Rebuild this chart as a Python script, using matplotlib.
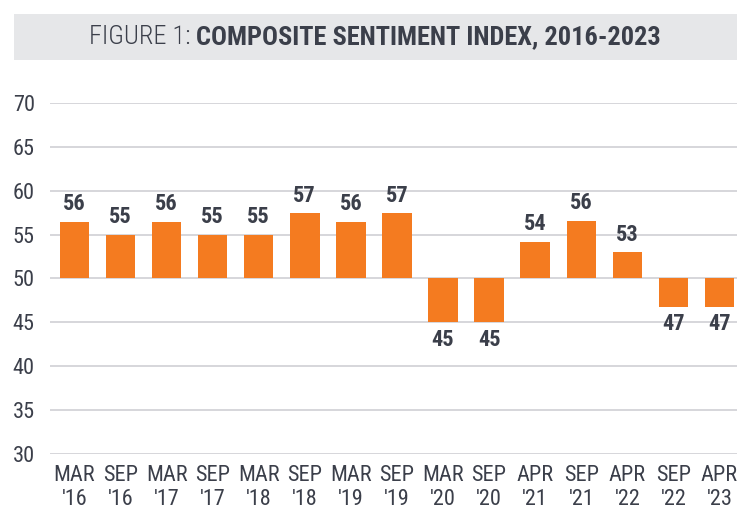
import numpy as np
import matplotlib
matplotlib.use("Agg")
import matplotlib.pyplot as plt
from matplotlib import font_manager
from matplotlib.patches import Rectangle


# Datos
meses = ["MAR", "SEP", "MAR", "SEP", "MAR", "SEP", "MAR", "SEP",
         "MAR", "SEP", "APR", "SEP", "APR", "SEP", "APR"]
anios = ["'16", "'16", "'17", "'17", "'18", "'18", "'19", "'19",
         "'20", "'20", "'21", "'21", "'22", "'22", "'23"]
valores = [56.5, 55.0, 56.5, 55.0, 55.0, 57.5, 56.5, 57.5,
           45.0, 45.0, 54.2, 56.6, 53.0, 46.8, 46.8]
etiquetas = [56, 55, 56, 55, 55, 57, 56, 57, 45, 45, 54, 56, 53, 47, 47]
base = 50

# Fuente condensada si hay alguna
disponibles = {f.name for f in font_manager.fontManager.ttflist}
fuente = "DejaVu Sans"
for cand in ["Roboto Condensed", "Liberation Sans Narrow", "DejaVu Sans Condensed", "Open Sans Condensed"]:
    if cand in disponibles:
        fuente = cand
        break
estirar = "condensed" if fuente == "DejaVu Sans" else "normal"
plt.rcParams["font.family"] = [fuente, "DejaVu Sans"]
plt.rcParams["font.stretch"] = estirar

naranja = "#F47B20"
gris_texto = "#3B3F4A"
gris_grid = "#D3D3D8"

fig = plt.figure(figsize=(7.5, 5.16), dpi=100)

# Banda del titulo
fig.patches.append(Rectangle((14 / 750, 1 - 60 / 516), 723 / 750, 46 / 516,
                             transform=fig.transFigure, facecolor="#E6E7E9",
                             edgecolor="none", zorder=0))
t1 = fig.text(0.5, 1 - 37 / 516, "FIGURE 1: ", ha="left", va="center",
              fontsize=19, color=gris_texto, fontweight="light")
t2 = fig.text(0.5, 1 - 37 / 516, "COMPOSITE SENTIMENT INDEX, 2016-2023", ha="left",
              va="center", fontsize=19, color=gris_texto, fontweight="bold")
fig.canvas.draw()
r = fig.canvas.get_renderer()
w1 = t1.get_window_extent(r).width
w2 = t2.get_window_extent(r).width
x0 = (750 - (w1 + w2)) / 2
t1.set_position((x0 / 750, 1 - 37 / 516))
t2.set_position(((x0 + w1) / 750, 1 - 37 / 516))

ax = fig.add_axes([50 / 750, 1 - 453.7 / 516, 687 / 750, 350.4 / 516])
x = np.arange(len(valores))
alturas = [v - base for v in valores]
ax.bar(x, alturas, bottom=base, width=0.64, color=naranja, zorder=3)

for i in range(len(valores)):
    if valores[i] >= base:
        ax.annotate(str(etiquetas[i]), (x[i], valores[i]), xytext=(0, 4.5),
                    textcoords="offset points", ha="center", va="bottom",
                    fontsize=16, fontweight="bold", color=gris_texto)
    else:
        ax.annotate(str(etiquetas[i]), (x[i], valores[i]), xytext=(0, -4.5),
                    textcoords="offset points", ha="center", va="top",
                    fontsize=16, fontweight="bold", color=gris_texto)

ax.set_ylim(30, 70)
ax.set_yticks(np.arange(30, 71, 5))
ax.set_xlim(-0.53, 14.38)
ax.set_xticks(x)
ax.set_xticklabels(["{}\n{}".format(meses[i], anios[i]) for i in range(len(meses))],
                   linespacing=1.2)
ax.grid(axis="y", color=gris_grid, linewidth=1.3, zorder=0)
ax.set_axisbelow(True)
for s in ax.spines.values():
    s.set_visible(False)
ax.tick_params(axis="both", length=0, labelsize=16, colors=gris_texto)
ax.tick_params(axis="y", pad=11)
ax.tick_params(axis="x", pad=8)

fig.savefig("out.png", dpi=100)
